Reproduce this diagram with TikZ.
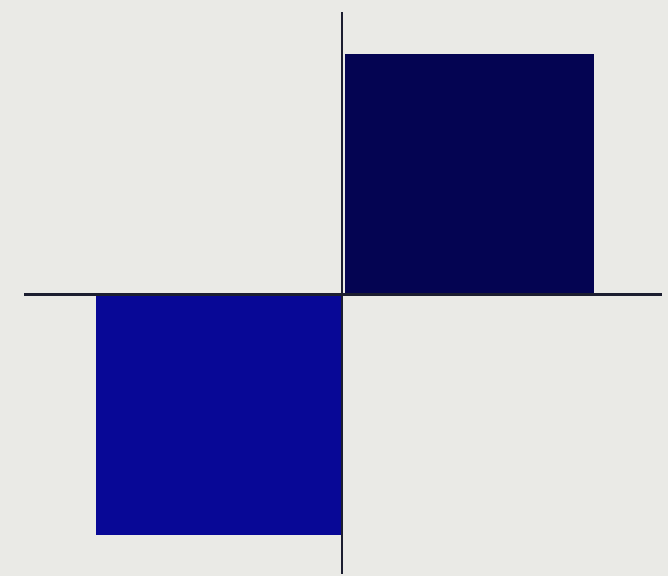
\documentclass[tikz,border=0pt]{standalone}
\definecolor{bg}{RGB}{234,234,230}
\definecolor{navydark}{RGB}{4,4,82}
\definecolor{navymid}{RGB}{8,8,150}
\definecolor{axis}{RGB}{28,30,48}
\tikzset{axisline/.style={draw=axis,line width=2.6pt}}
\begin{document}
\begin{tikzpicture}[x=1pt,y=-1pt]
\useasboundingbox (0,0) rectangle (668,576);
\fill[bg] (0,0) rectangle (668,576);
\fill[navydark] (345,54) rectangle (594,294);
\fill[navymid] (96,295) rectangle (343,535);
\draw[axisline] (24,294.5) -- (662,294.5);
\draw[axisline] (342,12) -- (342,574);
\end{tikzpicture}
\end{document}
